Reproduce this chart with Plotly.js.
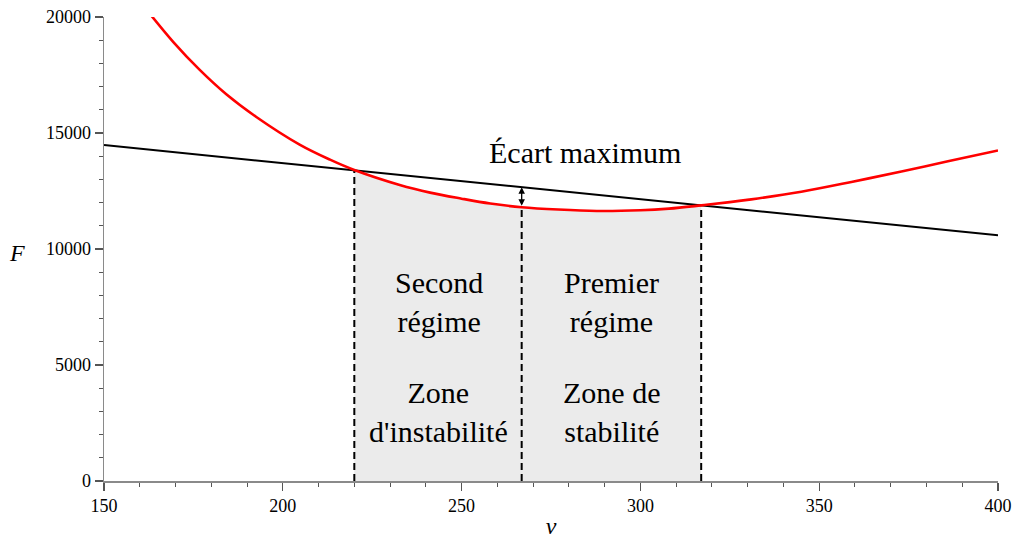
<!DOCTYPE html>
<html><head><meta charset="utf-8">
<script src="https://cdn.plot.ly/plotly-3.0.1.min.js"></script>
<style>html,body{margin:0;padding:0;background:#fff}#chart{width:1012px;height:539px}</style>
</head><body><div id="chart"></div>
<script>
// Red curve (drag force vs speed)
const redV = [162.5, 169.4, 176.7, 184.2, 192.6, 204.7, 213.2, 220, 232.7, 241.2, 250, 258, 266.8, 277, 287.8, 300, 308, 317, 325, 331, 345, 359, 373, 386, 400];
const redF = [20200, 18920, 17730, 16670, 15690, 14500, 13850, 13405, 12760, 12430, 12170, 11960, 11800, 11700, 11640, 11670, 11740, 11880, 12020, 12140, 12470, 12890, 13340, 13780, 14250];
// Black straight line
const lineV = [150, 400];
const lineF = [14480, 10590];
// Regime boundaries (dashed verticals) and the point of maximum gap
const boundV = [220, 266.8, 317];
const boundF = [13405, 11800, 11880];
const gapTopF = 12660;
// Ticks
const xTicks = [150, 200, 250, 300, 350, 400];
const yTicks = [0, 5000, 10000, 15000, 20000];
// Texts
const gapLabel = "Écart maximum";
const zoneLabels = ["Second<br>régime", "Zone<br>d'instabilité", "Premier<br>régime", "Zone de<br>stabilité"];

const serif = "'Liberation Serif', 'Times New Roman', serif";

const fillV = [], fillF = [];
for (let i = 0; i < redV.length; i++) {
  if (redV[i] >= boundV[0] && redV[i] <= boundV[2]) { fillV.push(redV[i]); fillF.push(redF[i]); }
}

const traces = [
  {x: fillV, y: fillF, type: 'scatter', mode: 'lines', fill: 'tozeroy', fillcolor: '#ebebeb',
   line: {width: 0, color: 'rgba(0,0,0,0)', shape: 'spline'}, hoverinfo: 'skip'}
];
boundV.forEach((v, i) => {
  traces.push({x: [v, v], y: [0, boundF[i]], type: 'scatter', mode: 'lines',
    line: {color: '#000', width: 2, dash: '7px,4px'}, hoverinfo: 'skip'});
});
traces.push({x: lineV, y: lineF, type: 'scatter', mode: 'lines', line: {color: '#000', width: 2}});
traces.push({x: redV, y: redF, type: 'scatter', mode: 'lines', line: {color: '#ff0000', width: 2.6, shape: 'spline', smoothing: 1}});

const layout = {
  width: 1012, height: 539,
  margin: {l: 104, r: 14, t: 17, b: 58},
  paper_bgcolor: '#fff', plot_bgcolor: '#fff',
  showlegend: false,
  font: {family: serif, color: '#000'},
  xaxis: {
    range: [150, 400], tickvals: xTicks, ticktext: xTicks.map(String),
    showgrid: false, zeroline: false, showline: true, linecolor: '#8a8a8a', linewidth: 1.5,
    ticks: 'outside', ticklen: 8, tickwidth: 1.2, tickcolor: '#555',
    tickfont: {family: serif, size: 18, color: '#000'}, ticklabelstandoff: 0,
    minor: {dtick: 10, ticks: 'outside', ticklen: 4, tickwidth: 1, tickcolor: '#555', showgrid: false},
    title: {text: '<i>v</i>', font: {family: serif, size: 24, color: '#000'}, standoff: 15}
  },
  yaxis: {
    range: [0, 20000], tickvals: yTicks, ticktext: yTicks.map(String),
    showgrid: false, zeroline: false, showline: true, linecolor: '#8a8a8a', linewidth: 1.5,
    ticks: 'outside', ticklen: 8, tickwidth: 1.2, tickcolor: '#555',
    tickfont: {family: serif, size: 18, color: '#000'},
    minor: {dtick: 1000, ticks: 'outside', ticklen: 4, tickwidth: 1, tickcolor: '#555', showgrid: false}
  },
  annotations: [
    {xref: 'paper', yref: 'paper', x: -0.097, y: 0.491, text: '<i>F</i>', showarrow: false,
     font: {family: serif, size: 24, color: '#000'}, xanchor: 'center', yanchor: 'middle'},
    {x: boundV[1], y: gapTopF, ax: boundV[1], ay: boundF[1], axref: 'x', ayref: 'y',
     text: '', showarrow: true, arrowside: 'end+start', arrowhead: 2, arrowsize: 1, arrowwidth: 1.3,
     arrowcolor: '#000', standoff: 0, startstandoff: 0},
    {x: 284.5, y: 14140, text: gapLabel, showarrow: false, font: {family: serif, size: 30, color: '#000'}},
    {x: 243.6, y: 7736, text: zoneLabels[0], showarrow: false, font: {family: serif, size: 30, color: '#000'}},
    {x: 243.6, y: 2995, text: zoneLabels[1], showarrow: false, font: {family: serif, size: 30, color: '#000'}},
    {x: 292, y: 7736, text: zoneLabels[2], showarrow: false, font: {family: serif, size: 30, color: '#000'}},
    {x: 292, y: 2995, text: zoneLabels[3], showarrow: false, font: {family: serif, size: 30, color: '#000'}}
  ]
};

Plotly.newPlot('chart', traces, layout, {displayModeBar: false, staticPlot: true});
</script>
</body></html>
